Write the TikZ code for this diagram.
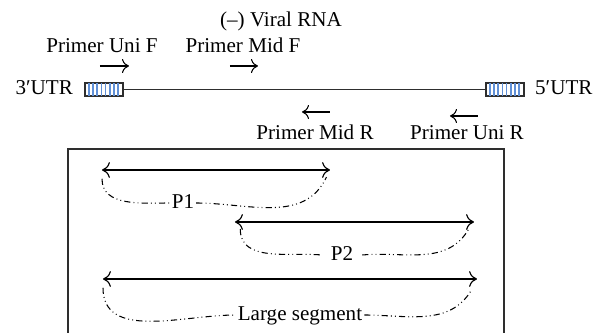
\documentclass[tikz,border=0pt]{standalone}
\usepackage{fontspec}
\setmainfont{Liberation Serif}
\usetikzlibrary{arrows.meta,positioning,calc}
\definecolor{rnagray}{HTML}{2E2E2E}
\definecolor{utrblue}{HTML}{5F8FD6}
\tikzset{
  lbl/.style={font=\fontsize{12}{14}\selectfont,inner sep=1pt,text height=8.5pt,text depth=2.5pt},
  parr/.style={-{To[length=4pt,width=8pt]},line width=0.6pt},
  utr/.style={draw=rnagray,fill=white,line width=0.6pt,minimum width=0.74cm,minimum height=0.25cm,inner sep=0pt},
  stripe/.style={draw=utrblue,line width=1pt},
  rna/.style={line width=0.7pt,draw=rnagray},
  seg/.style={{To[length=4.5pt,width=9pt]}-{To[length=4.5pt,width=9pt]},line width=0.65pt},
  brc/.style={line width=0.6pt,dash pattern=on 3.5pt off 1.8pt on 0.5pt off 1.8pt on 0.5pt off 1.8pt},
  frame/.style={draw=rnagray,line width=0.6pt},
}
\begin{document}
\begin{tikzpicture}[x=0.02cm,y=-0.02cm]
\clip (0,0) rectangle (600,333);
% genome
\node[lbl] (viral) at (281,21) {(–) Viral RNA};
\node[utr] (utr3) at (104,89.5) {};
\node[utr] (utr5) at (505,89.5) {};
\foreach \i in {1,...,8} {
  \draw[stripe] ([xshift=\i*0.0822cm]utr3.north west) -- ([xshift=\i*0.0822cm]utr3.south west);
  \draw[stripe] ([xshift=\i*0.0822cm]utr5.north west) -- ([xshift=\i*0.0822cm]utr5.south west);
}
\draw[utr,fill=none] (utr3.north west) rectangle (utr3.south east);
\draw[utr,fill=none] (utr5.north west) rectangle (utr5.south east);
\draw[rna] (utr3.east) -- (utr5.west);
\node[lbl, left=0.2cm of utr3] (t3) {3′UTR};
\node[lbl, right=0.18cm of utr5] (t5) {5′UTR};
% primers
\node[lbl] (unif) at (102,47) {Primer Uni F};
\node[lbl] (midf) at (243,47) {Primer Mid F};
\node[lbl] (midr) at (315,134) {Primer Mid R};
\node[lbl] (unir) at (467,134) {Primer Uni R};
\coordinate (unifa) at (100,66);  \coordinate (unifb) at (129,66);
\coordinate (midfa) at (230,66);  \coordinate (midfb) at (258,66);
\coordinate (midra) at (330,112); \coordinate (midrb) at (302,112);
\coordinate (unira) at (478,116); \coordinate (unirb) at (450,116);
\draw[parr] (unifa) -- (unifb);
\draw[parr] (midfa) -- (midfb);
\draw[parr] (midra) -- (midrb);
\draw[parr] (unira) -- (unirb);
% products
\draw[frame] (68,149) rectangle (504,360);
\coordinate (p1l) at (102,170); \coordinate (p1r) at (330,170);
\coordinate (p2l) at (235,222); \coordinate (p2r) at (474,222);
\coordinate (lgl) at (103,279); \coordinate (lgr) at (477,279);
\draw[seg] (p1l) -- (p1r);
\draw[seg] (p2l) -- (p2r);
\draw[seg] (lgl) -- (lgr);
\node[lbl] (lp1) at (183,203) {P1};
\node[lbl, inner xsep=5pt] (lp2) at (342,255) {P2};
\node[lbl] (llg) at (300,315) {Large segment};
\draw[brc] ([yshift=-5pt]p1l) to[out=-90,in=180] (lp1.west);
\draw[brc] (lp1.east) to[out=0,in=-115] ([xshift=-2pt,yshift=-4pt]p1r);
\draw[brc] ([xshift=3pt,yshift=-4pt]p2l) to[out=-90,in=175] (lp2.west);
\draw[brc] (lp2.east) to[out=5,in=-120] ([xshift=-3pt,yshift=-4pt]p2r);
\draw[brc] ([yshift=-5pt]lgl) to[out=-90,in=180] (llg.west);
\draw[brc] (llg.east) to[out=0,in=-120] ([xshift=-3pt,yshift=-6pt]lgr);
\end{tikzpicture}
\end{document}
